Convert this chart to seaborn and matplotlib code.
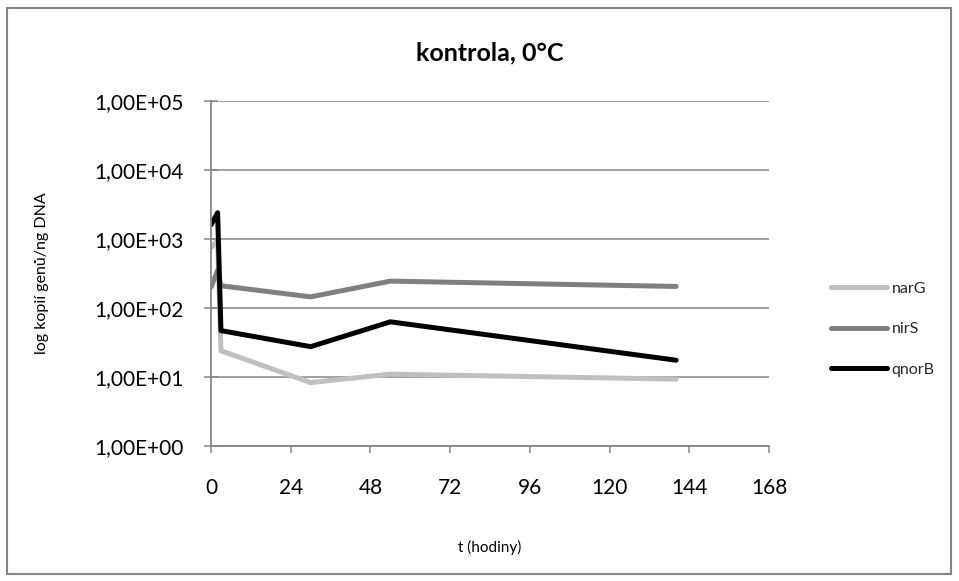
import numpy as np
import pandas as pd
import matplotlib
matplotlib.use("Agg")
import matplotlib.pyplot as plt
import matplotlib.ticker as mticker
from matplotlib.patches import Rectangle
import seaborn as sns

# ---- data ----
hours = [0, 2, 3, 30, 54, 140]
narG = [750, 950, 24, 8.3, 11, 9.3]
nirS = [200, 350, 210, 145, 245, 205]
qnorB = [1600, 2400, 47, 27.5, 63, 17.5]
genes = ["narG", "nirS", "qnorB"]
x_ticks = [0, 24, 48, 72, 96, 120, 144, 168]
y_ticks = [1e0, 1e1, 1e2, 1e3, 1e4, 1e5]
title = "kontrola, 0°C"
xlabel = "t (hodiny)"
ylabel = "log kopií genů/ng DNA"

df = pd.DataFrame({
    "t": hours * 3,
    "val": narG + nirS + qnorB,
    "gene": sum([[g] * len(hours) for g in genes], []),
})

sns.set_theme(style="white")
plt.rcParams["font.family"] = ["Lato", "DejaVu Sans"]

fig = plt.figure(figsize=(9.59, 5.81), dpi=100)
ax = fig.add_axes([0.220, 0.2324, 0.802 - 0.220, 0.8262 - 0.2324])

palette = {"narG": "#c0c0c0", "nirS": "#808080", "qnorB": "#000000"}
sns.lineplot(data=df, x="t", y="val", hue="gene", palette=palette, ax=ax,
             estimator=None, sort=False, linewidth=3.6, legend=True,
             solid_capstyle="round", solid_joinstyle="round")

ax.set_yscale("log")
ax.set_ylim(1e0, 1e5)
ax.set_xlim(0, 168)
ax.set_xticks(x_ticks)
ax.set_yticks(y_ticks)
ax.yaxis.set_minor_locator(mticker.NullLocator())
ax.yaxis.set_major_formatter(mticker.FuncFormatter(
    lambda v, p: ("%.2E" % v).replace(".", ",")))

grid_c = "#868686"
ax.grid(axis="y", color=grid_c, linewidth=1.1)
ax.grid(axis="x", visible=False)
ax.set_axisbelow(True)
for s in ["top", "right"]:
    ax.spines[s].set_visible(False)
for s in ["left", "bottom"]:
    ax.spines[s].set_color(grid_c)
    ax.spines[s].set_linewidth(1.3)
ax.tick_params(axis="y", which="major", direction="inout", length=10,
               width=1.1, color=grid_c, labelsize=15, pad=15, left=True)
ax.tick_params(axis="x", which="major", direction="out", length=5,
               width=1.1, color=grid_c, labelsize=15, pad=18, bottom=True)
for lab in ax.get_xticklabels() + ax.get_yticklabels():
    lab.set_color("#000000")

ax.set_xlabel(xlabel, fontsize=11, labelpad=30, color="#000000")
ax.set_ylabel(ylabel, fontsize=11.5, labelpad=32, color="#000000")
ax.set_title(title, fontsize=18, fontweight="bold", pad=29, color="#000000")

leg = ax.legend(loc="center left", bbox_to_anchor=(1.085, 0.339),
                frameon=False, fontsize=11.5, handlelength=3.5,
                handletextpad=0.3, labelspacing=1.65)
for line in leg.get_lines():
    line.set_linewidth(3.6)
    line.set_solid_capstyle("round")

fig.patches.append(Rectangle((7 / 959, 1 - 574 / 581), (951 - 7) / 959, (574 - 8) / 581,
                             transform=fig.transFigure, fill=False,
                             edgecolor="#868686", linewidth=1.5))

fig.savefig("out.png", dpi=100)
